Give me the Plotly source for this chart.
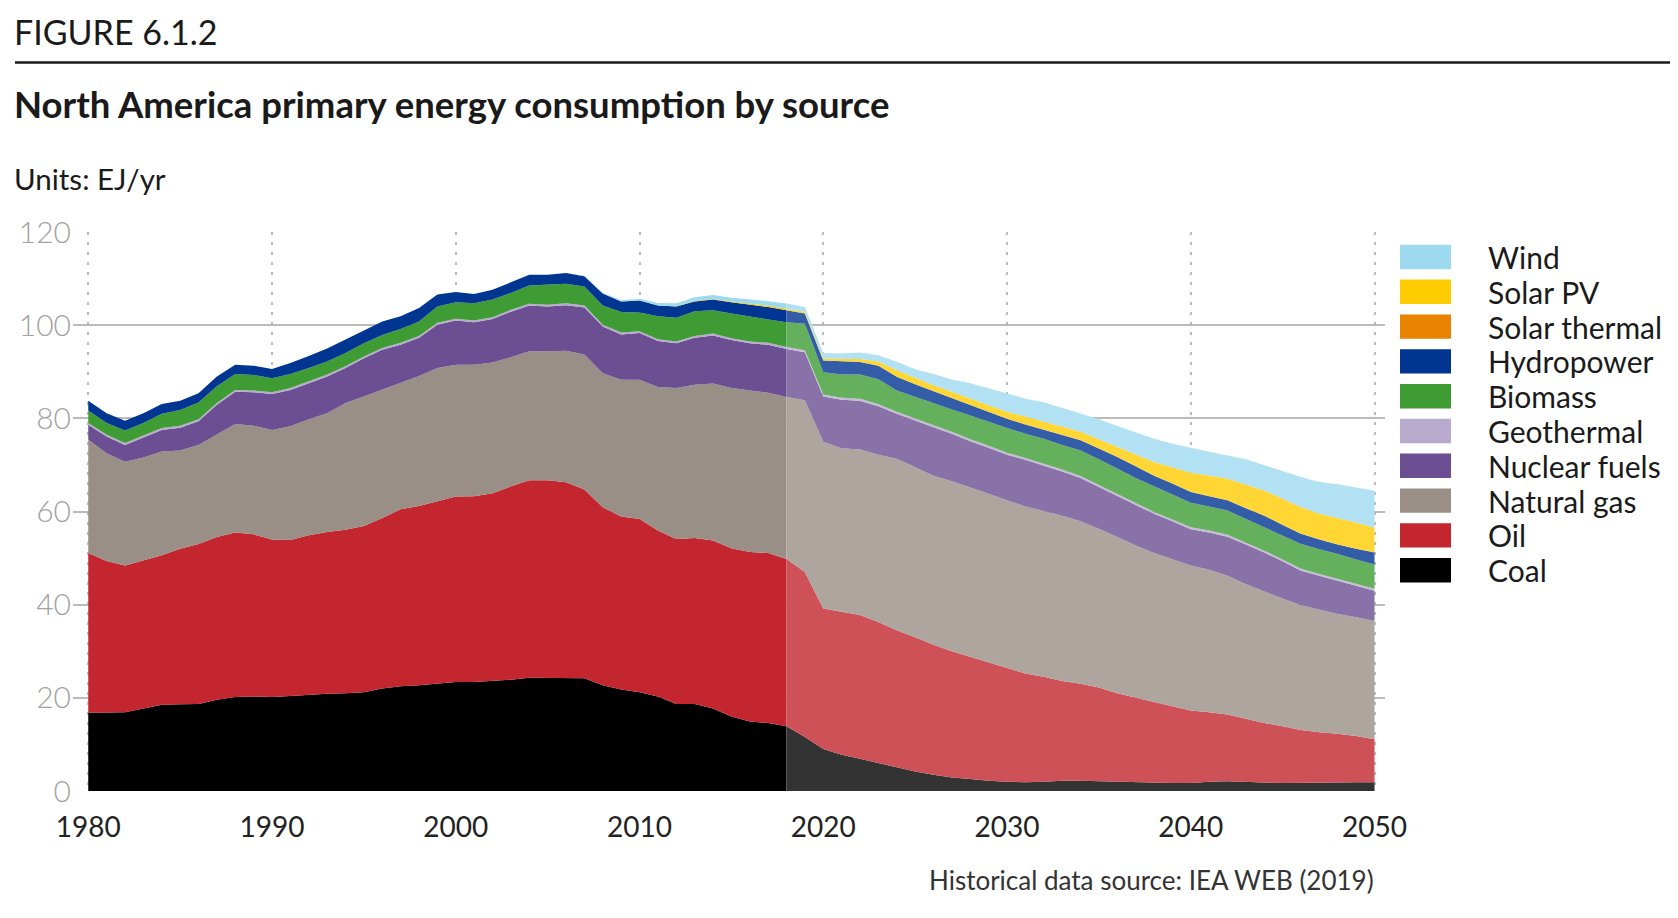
import plotly.graph_objects as go

# ---- data (EJ/yr) ----
years = list(range(1980, 2051))
forecast_start = 2018

coal = [16.8, 16.8, 16.9, 17.7, 18.5, 18.6, 18.7, 19.6, 20.2, 20.3,
        20.2, 20.4, 20.7, 20.9, 21.0, 21.2, 22.0, 22.5, 22.7, 23.0,
        23.4, 23.4, 23.6, 23.9, 24.3, 24.3, 24.3, 24.2, 22.7, 21.8,
        21.2, 20.3, 18.7, 18.7, 17.7, 16.0, 14.9, 14.6, 13.9, 11.6,
        9.0, 7.8, 6.9, 6.0, 5.1, 4.2, 3.5, 2.9, 2.6, 2.2,
        2.0, 1.9, 2.0, 2.2, 2.2, 2.1, 1.9, 1.8, 1.7, 1.7,
        1.7, 2.0, 2.1, 1.9, 1.8, 1.7, 1.7, 1.7, 1.8, 1.9,
        1.9]

oil = [34.3, 32.6, 31.5, 31.8, 32.1, 33.4, 34.3, 34.9, 35.3, 34.8,
       33.8, 33.5, 34.2, 34.7, 35.1, 35.7, 36.6, 38.0, 38.5, 39.2,
       39.8, 39.9, 40.3, 41.5, 42.4, 42.4, 42.0, 40.5, 38.2, 37.1,
       37.2, 35.6, 35.4, 35.6, 36.1, 36.1, 36.4, 36.5, 35.9, 35.4,
       30.2, 30.7, 30.9, 30.3, 29.4, 28.8, 27.9, 27.1, 26.2, 25.4,
       24.3, 23.3, 22.5, 21.4, 20.8, 20.1, 19.1, 18.2, 17.4, 16.5,
       15.6, 14.9, 14.3, 13.6, 12.8, 12.2, 11.4, 10.9, 10.5, 9.9,
       9.2]

natural_gas = [24.3, 23.1, 22.3, 22.1, 22.3, 21.1, 21.3, 22.0, 23.3, 23.3,
               23.5, 24.4, 24.9, 25.5, 27.2, 27.8, 27.6, 27.1, 27.9, 28.6,
               28.3, 28.2, 28.1, 27.7, 27.7, 27.7, 28.2, 29.0, 28.8, 29.4,
               29.9, 30.8, 32.4, 32.9, 33.7, 34.4, 34.7, 34.4, 34.8, 36.9,
               35.8, 35.1, 35.5, 35.9, 36.8, 36.5, 36.3, 36.5, 36.4, 36.2,
               36.1, 35.9, 35.6, 35.5, 34.9, 34.1, 33.5, 32.7, 32.0, 31.6,
               31.1, 30.6, 29.8, 28.9, 28.2, 27.4, 26.8, 26.3, 25.7, 25.5,
               25.4]

nuclear = [3.2, 3.6, 3.6, 4.3, 4.6, 4.9, 5.1, 6.4, 6.9, 7.2,
           7.7, 7.8, 7.7, 7.9, 7.5, 8.2, 8.5, 8.2, 8.2, 9.3,
           9.5, 9.1, 9.3, 9.8, 9.8, 9.6, 9.8, 10.1, 10.0, 9.7,
           10.0, 9.9, 9.6, 10.1, 10.3, 10.3, 10.1, 10.3, 10.3, 10.3,
           9.7, 10.4, 10.5, 10.4, 9.7, 10.0, 10.4, 10.2, 9.9, 9.9,
           9.8, 10.0, 9.8, 9.5, 9.3, 9.0, 8.9, 8.8, 8.4, 8.1,
           7.8, 8.0, 8.4, 8.5, 8.4, 8.0, 7.4, 7.3, 7.1, 6.7,
           6.5]

geothermal = [0.4, 0.4, 0.4, 0.4, 0.4, 0.4, 0.4, 0.4, 0.4, 0.4,
              0.4, 0.4, 0.4, 0.4, 0.4, 0.4, 0.4, 0.4, 0.4, 0.4,
              0.4, 0.4, 0.4, 0.4, 0.4, 0.4, 0.4, 0.4, 0.4, 0.4,
              0.4, 0.4, 0.4, 0.4, 0.4, 0.4, 0.4, 0.4, 0.4, 0.4,
              0.4, 0.4, 0.4, 0.4, 0.4, 0.4, 0.4, 0.4, 0.4, 0.4,
              0.4, 0.4, 0.4, 0.4, 0.4, 0.4, 0.4, 0.4, 0.4, 0.4,
              0.4, 0.4, 0.4, 0.4, 0.4, 0.4, 0.4, 0.4, 0.4, 0.4,
              0.4]

biomass = [2.7, 2.5, 2.7, 2.7, 3.1, 3.4, 3.6, 3.6, 3.4, 3.3,
           3.0, 3.0, 2.9, 2.8, 2.8, 2.8, 2.8, 3.0, 3.1, 3.5,
           3.5, 3.7, 3.8, 3.6, 3.9, 4.3, 4.2, 4.1, 4.1, 4.4,
           4.0, 4.9, 5.1, 5.3, 5.0, 5.3, 5.4, 5.1, 5.3, 5.7,
           4.8, 5.0, 5.2, 5.4, 4.6, 4.7, 4.7, 4.8, 5.1, 5.1,
           5.3, 5.2, 5.3, 5.3, 5.5, 5.5, 5.4, 5.3, 5.5, 5.3,
           5.3, 5.2, 5.2, 5.1, 5.0, 5.1, 5.3, 5.3, 5.4, 5.3,
           5.2]

hydropower = [2.1, 2.1, 2.1, 2.1, 2.1, 2.0, 2.0, 2.1, 2.0, 2.0,
              2.0, 2.4, 2.6, 2.8, 2.9, 2.8, 2.9, 2.7, 2.9, 2.6,
              2.2, 2.0, 2.1, 2.3, 2.3, 2.1, 2.3, 2.2, 2.6, 2.3,
              2.6, 2.3, 2.4, 2.1, 2.3, 2.4, 2.5, 2.6, 2.6, 2.2,
              2.5, 2.8, 2.7, 2.9, 2.9, 2.7, 2.6, 2.5, 2.2, 2.2,
              2.0, 2.0, 2.0, 2.2, 2.2, 2.3, 2.5, 2.5, 2.3, 2.4,
              2.3, 2.2, 2.2, 2.3, 2.5, 2.3, 2.2, 2.1, 2.0, 2.3,
              2.6]

solar_thermal = [0.0, 0.0, 0.0, 0.0, 0.0, 0.0, 0.0, 0.0, 0.0, 0.0,
                 0.0, 0.0, 0.0, 0.0, 0.0, 0.0, 0.0, 0.0, 0.0, 0.0,
                 0.0, 0.0, 0.0, 0.0, 0.0, 0.0, 0.0, 0.0, 0.0, 0.0,
                 0.01, 0.01, 0.01, 0.01, 0.01, 0.01, 0.01, 0.01, 0.01, 0.01,
                 0.02, 0.02, 0.02, 0.02, 0.02, 0.02, 0.02, 0.02, 0.02, 0.02,
                 0.03, 0.03, 0.03, 0.03, 0.03, 0.03, 0.03, 0.03, 0.03, 0.03,
                 0.03, 0.03, 0.03, 0.03, 0.03, 0.03, 0.03, 0.03, 0.03, 0.03,
                 0.03]

solar_pv = [0.0, 0.0, 0.0, 0.0, 0.0, 0.0, 0.0, 0.0, 0.0, 0.0,
            0.0, 0.0, 0.0, 0.0, 0.0, 0.0, 0.0, 0.0, 0.0, 0.0,
            0.0, 0.0, 0.0, 0.0, 0.0, 0.0, 0.0, 0.0, 0.0, 0.0,
            0.02, 0.03, 0.05, 0.08, 0.12, 0.15, 0.2, 0.25, 0.3, 0.35,
            0.4, 0.5, 0.6, 0.9, 1.4, 1.4, 1.3, 1.3, 1.4, 1.4,
            1.5, 1.6, 1.6, 1.6, 1.8, 2.0, 2.1, 2.5, 2.9, 3.5,
            4.1, 4.4, 4.6, 5.0, 5.4, 5.6, 5.7, 5.5, 5.7, 5.6,
            5.3]

wind = [0.0, 0.0, 0.0, 0.0, 0.0, 0.0, 0.0, 0.0, 0.0, 0.0,
        0.0, 0.0, 0.0, 0.0, 0.0, 0.0, 0.0, 0.0, 0.0, 0.0,
        0.0, 0.0, 0.0, 0.0, 0.0, 0.0, 0.0, 0.1, 0.15, 0.25,
        0.35, 0.5, 0.65, 0.8, 0.85, 0.85, 0.95, 1.0, 1.15, 1.05,
        1.2, 1.2, 1.4, 1.3, 1.8, 1.8, 2.4, 2.6, 3.3, 3.6,
        3.9, 3.9, 4.2, 4.1, 3.9, 4.3, 4.5, 4.7, 5.0, 5.0,
        5.3, 5.1, 5.0, 5.5, 5.4, 5.9, 6.5, 6.8, 7.2, 7.5,
        7.9]

# stacking order bottom -> top
series = [
    ("Coal", coal, "#000000"),
    ("Oil", oil, "#C3262E"),
    ("Natural gas", natural_gas, "#9A8F87"),
    ("Nuclear fuels", nuclear, "#6B4F92"),
    ("Geothermal", geothermal, "#B8AACD"),
    ("Biomass", biomass, "#3F9C35"),
    ("Hydropower", hydropower, "#003591"),
    ("Solar thermal", solar_thermal, "#EA8400"),
    ("Solar PV", solar_pv, "#FFCC00"),
    ("Wind", wind, "#9DD9EF"),
]


def lighten(hex_color, t=0.2):
    '''mix a colour with white, used for the projection period'''
    h = hex_color.lstrip('#')
    r, g, b = (int(h[i:i + 2], 16) for i in (0, 2, 4))
    r, g, b = (round(c + (255 - c) * t) for c in (r, g, b))
    return f'rgb({r},{g},{b})'


# pixel layout, page coordinates (the html body adds an 8px offset)
OFF = 8
W, H = 1678 - OFF, 918 - OFF
PLOT_L, PLOT_R, PLOT_T, PLOT_B = 73, 1385, 232, 791
L, T = PLOT_L - OFF, PLOT_T - OFF
R, B = W - (PLOT_R - OFF), H - (PLOT_B - OFF)
PW, PH = PLOT_R - PLOT_L, PLOT_B - PLOT_T


def px(x):
    return (x - PLOT_L) / PW


def py(y):
    return (PLOT_B - y) / PH


FONT = "Lato"

fig = go.Figure()

i0 = years.index(forecast_start)
for name, vals, col in series:
    fig.add_trace(go.Scatter(
        x=years[:i0 + 1], y=vals[:i0 + 1], name=name,
        mode="lines", line=dict(width=0, color=col),
        fillcolor=col, stackgroup="hist", showlegend=False,
        hoverinfo="skip"))
for name, vals, col in series:
    fig.add_trace(go.Scatter(
        x=years[i0:], y=vals[i0:], name=name,
        mode="lines", line=dict(width=0, color=lighten(col)),
        fillcolor=lighten(col), stackgroup="proj", showlegend=False,
        hoverinfo="skip"))

# Creating layout for visuals
fig.update_layout(
    width=W, height=H, autosize=False,
    margin=dict(l=L, r=R, t=T, b=B),
    paper_bgcolor="white", plot_bgcolor="white",
    font=dict(family=FONT, size=28, color="#222222"),
    showlegend=False,
)

fig.update_xaxes(
    range=[1979.17, 2050.57], automargin=False,
    tickvals=list(range(1980, 2051, 10)),
    showgrid=True, gridcolor="#BBBBBB", gridwidth=2, griddash="3px,7px",
    zeroline=False, showline=False,
    ticks="outside", ticklen=11, tickcolor="rgba(0,0,0,0)",
    tickfont=dict(family=FONT, size=28, color="#222222"),
    layer="above traces", fixedrange=True,
)
fig.update_yaxes(
    range=[0, 120], automargin=False,
    tickvals=list(range(0, 121, 20)),
    showgrid=True, gridcolor="rgba(170,170,170,0.8)", gridwidth=2,
    zeroline=False, showline=False,
    ticks="", ticklabelstandoff=1,
    tickfont=dict(family=FONT, size=30, color="#A2A2A2", weight=300),
    layer="above traces", fixedrange=True,
)

# header texts
ann = [
    dict(text="FIGURE 6.1.2", x=px(12), y=py(31), size=34, color="#1A1A1A", weight=400),
    dict(text="North America primary energy consumption by source",
         x=px(12), y=py(104), size=36.5, color="#1A1A1A", weight=700),
    dict(text="Units: EJ/yr", x=px(12), y=py(178), size=29.5, color="#1A1A1A", weight=400),
]
for a in ann:
    fig.add_annotation(text=a["text"], x=a["x"], y=a["y"], xref="paper", yref="paper",
                       xanchor="left", yanchor="middle", showarrow=False,
                       font=dict(family=FONT, size=a["size"], color=a["color"], weight=a["weight"]))

fig.add_annotation(text="Historical data source: IEA WEB (2019)",
                   x=px(1376), y=py(880), xref="paper", yref="paper",
                   xanchor="right", yanchor="middle", showarrow=False,
                   font=dict(family=FONT, size=26, color="#333333"))

# rule under the figure number
fig.add_shape(type="line", xref="paper", yref="paper",
              x0=px(15), x1=px(1670), y0=py(62.5), y1=py(62.5),
              line=dict(color="#1A1A1A", width=2.5))

# legend, top to bottom
for k, (name, vals, col) in enumerate(reversed(series)):
    cy = 257 + 34.8 * k
    fig.add_shape(type="rect", xref="paper", yref="paper",
                  x0=px(1400), x1=px(1451), y0=py(cy - 12.2), y1=py(cy + 12.2),
                  fillcolor=col, line=dict(width=0))
    fig.add_annotation(text=name, x=px(1486), y=py(cy), xref="paper", yref="paper",
                       xanchor="left", yanchor="middle", showarrow=False,
                       font=dict(family=FONT, size=30, color="#1A1A1A"))

fig.write_html("out.html")
